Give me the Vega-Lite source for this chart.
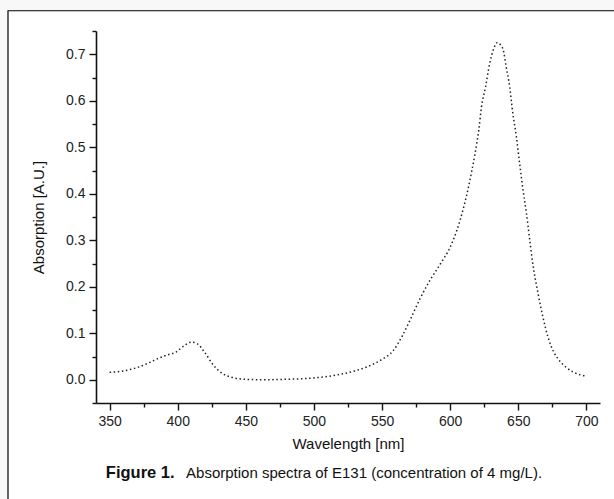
{
  "$schema": "https://vega.github.io/schema/vega-lite/v6.json",
  "width": 504,
  "height": 372,
  "autosize": {"type": "none"},
  "padding": {"left": 96, "top": 31, "right": 14, "bottom": 96},
  "background": "#f8f8f8",
  "config": {
    "view": {"stroke": null},
    "font": "Liberation Sans",
    "axis": {
      "grid": false,
      "domainColor": "#111",
      "domainWidth": 1.6,
      "tickColor": "#111",
      "tickWidth": 1.4,
      "labelFont": "Liberation Sans",
      "labelFontSize": 14,
      "labelColor": "#222",
      "titleFont": "Liberation Sans",
      "titleFontSize": 15,
      "titleFontWeight": "normal",
      "titleColor": "#111"
    }
  },
  "data": {
    "values": [
      {"wl": 350, "abs": 0.016}, {"wl": 360, "abs": 0.019}, {"wl": 370, "abs": 0.026},
      {"wl": 380, "abs": 0.038}, {"wl": 385, "abs": 0.045}, {"wl": 392, "abs": 0.053},
      {"wl": 399, "abs": 0.06}, {"wl": 405, "abs": 0.074}, {"wl": 410, "abs": 0.081},
      {"wl": 414, "abs": 0.078}, {"wl": 420, "abs": 0.058}, {"wl": 426, "abs": 0.032},
      {"wl": 433, "abs": 0.013}, {"wl": 440, "abs": 0.005}, {"wl": 450, "abs": 0.001},
      {"wl": 462, "abs": 0.0}, {"wl": 480, "abs": 0.001}, {"wl": 490, "abs": 0.002},
      {"wl": 500, "abs": 0.004}, {"wl": 510, "abs": 0.007}, {"wl": 520, "abs": 0.012},
      {"wl": 530, "abs": 0.019}, {"wl": 540, "abs": 0.029}, {"wl": 550, "abs": 0.044},
      {"wl": 558, "abs": 0.062}, {"wl": 565, "abs": 0.095}, {"wl": 570, "abs": 0.125},
      {"wl": 578, "abs": 0.175}, {"wl": 585, "abs": 0.213}, {"wl": 593, "abs": 0.25},
      {"wl": 600, "abs": 0.285}, {"wl": 605, "abs": 0.322}, {"wl": 610, "abs": 0.372},
      {"wl": 613.5, "abs": 0.415}, {"wl": 616, "abs": 0.451}, {"wl": 618.3, "abs": 0.487},
      {"wl": 621, "abs": 0.537}, {"wl": 623, "abs": 0.587}, {"wl": 626, "abs": 0.63},
      {"wl": 629, "abs": 0.68}, {"wl": 632, "abs": 0.712}, {"wl": 634.5, "abs": 0.725},
      {"wl": 637, "abs": 0.72}, {"wl": 639, "abs": 0.709}, {"wl": 641, "abs": 0.675},
      {"wl": 643.7, "abs": 0.63}, {"wl": 646, "abs": 0.573}, {"wl": 648.6, "abs": 0.523},
      {"wl": 651, "abs": 0.465}, {"wl": 653.5, "abs": 0.408}, {"wl": 656, "abs": 0.358},
      {"wl": 658.4, "abs": 0.301}, {"wl": 661, "abs": 0.243}, {"wl": 664.5, "abs": 0.186},
      {"wl": 668, "abs": 0.136}, {"wl": 672, "abs": 0.09}, {"wl": 676, "abs": 0.06},
      {"wl": 680, "abs": 0.042}, {"wl": 685, "abs": 0.027}, {"wl": 690, "abs": 0.017},
      {"wl": 695, "abs": 0.011}, {"wl": 700, "abs": 0.008}
    ]
  },
  "layer": [
    {
      "data": {"values": [{}]},
      "mark": {"type": "rect", "fill": "white", "stroke": "#000", "strokeWidth": 1.2},
      "encoding": {
        "x": {"datum": 275.4, "type": "quantitative", "scale": {"domain": [340, 710], "nice": false, "zero": false}},
        "x2": {"datum": 726},
        "y": {"datum": 0.7935, "type": "quantitative", "scale": {"domain": [-0.05, 0.75], "nice": false, "zero": false}},
        "y2": {"datum": -0.28}
      }
    },
    {
      "mark": {"type": "line", "interpolate": "monotone", "color": "#222", "strokeWidth": 1.5, "strokeDash": [1.5, 2.6]},
      "encoding": {
        "x": {
          "field": "wl", "type": "quantitative",
          "scale": {"domain": [340, 710], "nice": false, "zero": false},
          "axis": {
            "zindex": 2,
            "title": "Wavelength [nm]",
            "tickCount": 100,
            "values": [350, 375, 400, 425, 450, 475, 500, 525, 550, 575, 600, 625, 650, 675, 700],
            "labelExpr": "datum.value % 50 === 0 ? datum.label : ''",
            "tickSize": {"condition": {"test": "datum.value % 50 === 0", "value": 7}, "value": 4},
            "labelPadding": 4,
            "titlePadding": 8
          }
        },
        "y": {
          "field": "abs", "type": "quantitative",
          "scale": {"domain": [-0.05, 0.75], "nice": false, "zero": false},
          "axis": {
            "zindex": 2,
            "title": "Absorption [A.U.]",
            "format": ".1f",
            "tickCount": 100,
            "values": [-0.05, 0, 0.05, 0.1, 0.15, 0.2, 0.25, 0.3, 0.35, 0.4, 0.45, 0.5, 0.55, 0.6, 0.65, 0.7, 0.75],
            "labelExpr": "round(datum.value * 20) % 2 === 0 ? datum.label : ''",
            "tickSize": {"condition": {"test": "round(datum.value * 20) % 2 === 0", "value": 7}, "value": 4},
            "labelPadding": 4,
            "titlePadding": 19
          }
        }
      }
    },
    {
      "data": {"values": [{}]},
      "mark": {"type": "text", "text": "Figure 1.", "font": "Liberation Sans", "fontSize": 16.5, "fontWeight": "bold", "align": "left", "baseline": "middle", "color": "#111"},
      "encoding": {
        "x": {"datum": 347.2, "type": "quantitative"},
        "y": {"datum": -0.2005, "type": "quantitative"}
      }
    },
    {
      "data": {"values": [{}]},
      "mark": {"type": "text", "text": "Absorption spectra of E131 (concentration of 4 mg/L).", "font": "Liberation Sans", "fontSize": 15, "align": "left", "baseline": "middle", "color": "#111"},
      "encoding": {
        "x": {"datum": 406.1, "type": "quantitative"},
        "y": {"datum": -0.2005, "type": "quantitative"}
      }
    }
  ]
}
